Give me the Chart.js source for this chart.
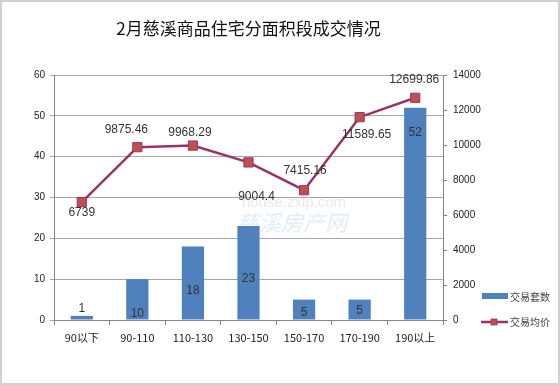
<!DOCTYPE html>
<html>
<head>
<meta charset="utf-8">
<script src="https://cdn.jsdelivr.net/npm/chart.js@4"></script>
<style>
  html, body { margin: 0; padding: 0; background: #fff; }
  #wrap { width: 560px; height: 385px; position: relative; }
</style>
</head>
<body>
<div id="wrap"><canvas id="grafica"></canvas></div>
<script>
// datos del gráfico
const categorias = ["90以下", "90-110", "110-130", "130-150", "150-170", "170-190", "190以上"];
const taoshu = [1, 10, 18, 23, 5, 5, 52];              // 交易套数
const junjia = [6739, 9875.46, 9968.29, 9004.4, 7415.16, 11589.65, 12699.86]; // 交易均价
const tituloTexto = "2月慈溪商品住宅分面积段成交情况";
const ejeIzq = { min: 0, max: 60, paso: 10 };
const ejeDer = { min: 0, max: 14000, paso: 2000 };

const colorBarra = "#4f81bd";
const colorLinea = "#993366";
const colorMarca = "#c0504d";
const fuenteNum = "'Liberation Sans', Arial, sans-serif";
const fuenteCJK = "'Noto Sans CJK SC', 'Liberation Sans', sans-serif";

// desplazamientos de las etiquetas (como en el original, colocadas a mano)
const despBarras = [-7, 35, 44, 53, 13, 11, 25];
const despLinea = [[0, 11], [-11, -17], [-3, -13], [8, 34], [1, -20], [7, 18], [-1, -18]];

// Etiquetas de datos, marca de agua, leyenda y borde
const pluginExtras = {
    id: "extras",
    beforeDatasetsDraw(chart) {
        const ctx = chart.ctx;
        ctx.save();
        ctx.textAlign = "center";
        ctx.textBaseline = "middle";
        ctx.fillStyle = "rgba(200,200,200,0.4)";
        ctx.font = "15px " + fuenteNum;
        ctx.fillText("house.zxip.com", 294, 203);
        ctx.fillStyle = "rgba(190,212,232,0.45)";
        ctx.font = "italic 22px " + fuenteCJK;
        ctx.fillText("慈溪房产网", 292, 223);
        ctx.restore();
    },
    afterDatasetsDraw(chart) {
        const ctx = chart.ctx;
        ctx.save();
        ctx.textAlign = "center";
        ctx.textBaseline = "middle";
        ctx.font = "12px " + fuenteNum;
        ctx.fillStyle = "#333";

        chart.getDatasetMeta(0).data.forEach((bar, i) => {
            ctx.fillText(String(taoshu[i]), bar.x, bar.y + despBarras[i]);
        });
        chart.getDatasetMeta(1).data.forEach((pt, i) => {
            const d = despLinea[i];
            ctx.fillText(String(junjia[i]), pt.x + d[0], pt.y + d[1]);
        });

        // leyenda
        const area = chart.chartArea;
        const lx = area.right + 39;
        ctx.fillStyle = colorBarra;
        ctx.fillRect(lx, 293, 26, 6);
        ctx.strokeStyle = colorLinea;
        ctx.lineWidth = 2.5;
        ctx.beginPath();
        ctx.moveTo(lx - 1, 322);
        ctx.lineTo(lx + 26, 322);
        ctx.stroke();
        ctx.fillStyle = colorMarca;
        ctx.fillRect(lx + 9, 319, 6, 6);
        ctx.strokeStyle = colorLinea;
        ctx.lineWidth = 0.8;
        ctx.strokeRect(lx + 9, 319, 6, 6);

        ctx.textAlign = "left";
        ctx.fillStyle = "#444";
        ctx.font = "10px " + fuenteCJK;
        ctx.fillText(chart.data.datasets[0].label, lx + 28, 297);
        ctx.fillText(chart.data.datasets[1].label, lx + 28, 322);

        // borde del gráfico
        ctx.strokeStyle = "#d0d0d0";
        ctx.lineWidth = 2;
        ctx.strokeRect(1, 1, chart.width - 2, chart.height - 2);
        ctx.restore();
    }
};

const grafica = new Chart(document.getElementById("grafica"), {
    data: {
        labels: categorias,
        datasets: [
            {
                type: "bar",
                label: "交易套数",
                data: taoshu,
                yAxisID: "y",
                backgroundColor: colorBarra,
                categoryPercentage: 1,
                barPercentage: 0.4,
                order: 2
            },
            {
                type: "line",
                label: "交易均价",
                data: junjia,
                yAxisID: "y1",
                borderColor: colorLinea,
                borderWidth: 2.5,
                pointStyle: "rect",
                pointRadius: 6.5,
                pointBackgroundColor: colorMarca,
                pointBorderColor: colorLinea,
                pointBorderWidth: 1,
                tension: 0,
                order: 1
            }
        ]
    },
    options: {
        responsive: true,
        maintainAspectRatio: false,
        animation: false,
        layout: { padding: 0 },
        plugins: {
            legend: { display: false },
            tooltip: { enabled: false },
            title: {
                display: true,
                text: tituloTexto,
                fullSize: false,
                color: "#111",
                font: { family: fuenteCJK, size: 17, weight: "normal" },
                padding: { top: 18, bottom: 36.6 }
            }
        },
        scales: {
            x: {
                grid: { offset: true, drawOnChartArea: false, tickLength: 5, color: "#868686" },
                border: { color: "#868686" },
                ticks: { color: "#222", padding: 6, font: { family: fuenteCJK, size: 11 } },
                afterFit: s => { s.height = 65; }
            },
            y: {
                position: "left",
                min: ejeIzq.min,
                max: ejeIzq.max,
                ticks: { stepSize: ejeIzq.paso, color: "#222", padding: 5, font: { family: fuenteNum, size: 10 } },
                grid: { color: "#a6a6a6", tickLength: 4 },
                border: { color: "#868686" },
                afterFit: s => { s.width = 54; }
            },
            y1: {
                position: "right",
                min: ejeDer.min,
                max: ejeDer.max,
                ticks: {
                    stepSize: ejeDer.paso, color: "#222", padding: 6,
                    font: { family: fuenteNum, size: 10 },
                    callback: v => String(v)
                },
                grid: { drawOnChartArea: false, tickLength: 4, color: "#868686" },
                border: { color: "#868686" },
                afterFit: s => { s.width = 117; }
            }
        }
    },
    plugins: [pluginExtras]
});
</script>
</body>
</html>
